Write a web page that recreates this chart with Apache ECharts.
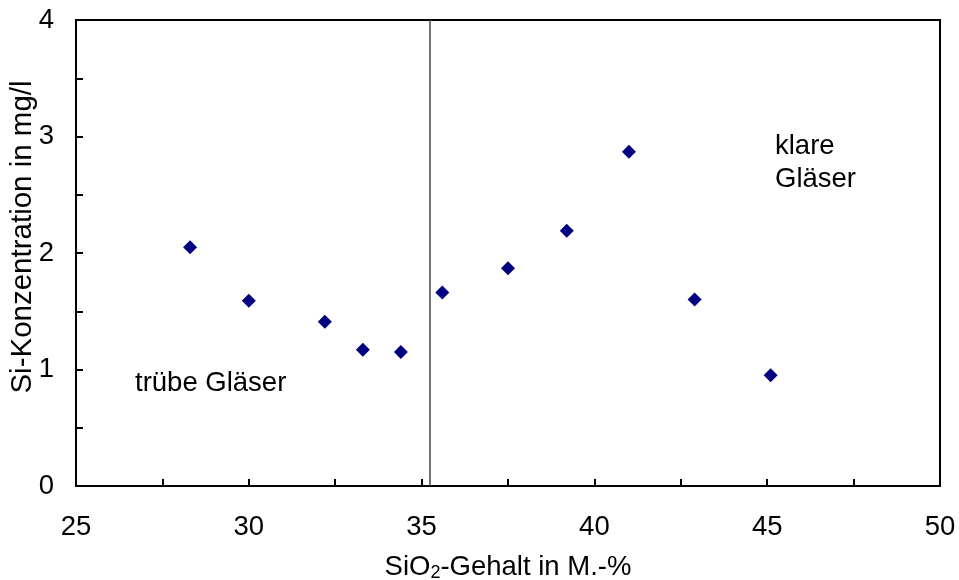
<!DOCTYPE html>
<html>
<head>
<meta charset="utf-8">
<script src="https://cdn.jsdelivr.net/npm/echarts@6/dist/echarts.min.js"></script>
<style>
  html, body { margin: 0; padding: 0; background: #fff; }
  #chart { width: 959px; height: 580px; }
</style>
</head>
<body>
<div id="chart"></div>
<script>
// SiO2 content (M.-%) and Si concentration (mg/l)
const sio2 = [28.3, 30.0, 32.2, 33.3, 34.4, 35.6, 37.5, 39.2, 41.0, 42.9, 45.1]
const siConc = [2.05, 1.59, 1.41, 1.17, 1.15, 1.66, 1.87, 2.19, 2.87, 1.60, 0.95]
const boundary = 35.25
const xTickLabels = ['25', '30', '35', '40', '45', '50']
const yTickLabels = ['0', '1', '2', '3', '4']

const font = 'Arial, "Liberation Sans", sans-serif'
const chart = echarts.init(document.getElementById('chart'))

chart.setOption({
  animation: false,
  grid: {
    left: 76,
    right: 19,
    top: 20,
    bottom: 94,
    outerBoundsMode: 'none',
    show: true,
    borderColor: '#000',
    borderWidth: 2
  },
  xAxis: {
    type: 'value',
    min: 25,
    max: 50,
    interval: 2.5,
    name: 'SiO{sub|2}-Gehalt in M.-%',
    nameLocation: 'middle',
    nameGap: 66,
    nameMoveOverlap: false,
    nameTextStyle: {
      color: '#000',
      fontSize: 27.5,
      fontFamily: font,
      rich: {
        sub: { fontSize: 18, fontFamily: font, color: '#000', padding: [12, 0, 0, 0] }
      }
    },
    axisLine: { lineStyle: { color: '#000', width: 2 } },
    axisTick: { inside: true, length: 7, lineStyle: { color: '#000', width: 2 } },
    splitLine: { show: false },
    axisLabel: {
      color: '#000',
      fontSize: 27.5,
      fontFamily: font,
      margin: 27,
      formatter: v => (xTickLabels.includes(String(v)) ? String(v) : '')
    }
  },
  yAxis: {
    type: 'value',
    min: 0,
    max: 4,
    interval: 0.5,
    name: 'Si-Konzentration in mg/l',
    nameLocation: 'middle',
    nameGap: 38,
    nameMoveOverlap: false,
    nameTextStyle: { color: '#000', fontSize: 29.5, fontFamily: font, padding: [0, 0, 0, 32] },
    axisLine: { lineStyle: { color: '#000', width: 2 } },
    axisTick: { inside: true, length: 7, lineStyle: { color: '#000', width: 2 } },
    splitLine: { show: false },
    axisLabel: {
      color: '#000',
      fontSize: 27.5,
      fontFamily: font,
      margin: 22,
      formatter: v => (yTickLabels.includes(String(v)) ? String(v) : '')
    }
  },
  graphic: [
    {
      type: 'text',
      left: 135,
      top: 369,
      style: { text: 'trübe Gläser', fontSize: 27.5, fontFamily: font, fill: '#000' }
    },
    {
      type: 'text',
      left: 775,
      top: 130,
      style: { text: 'klare\nGläser', fontSize: 27.5, lineHeight: 33, fontFamily: font, fill: '#000' }
    }
  ],
  series: [
    {
      type: 'scatter',
      symbol: 'diamond',
      symbolSize: 14,
      itemStyle: { color: '#000080', opacity: 1 },
      data: sio2.map((x, i) => [x, siConc[i]]),
      markLine: {
        silent: true,
        symbol: 'none',
        label: { show: false },
        lineStyle: { color: '#444', width: 1.5, type: 'solid' },
        data: [{ xAxis: boundary }]
      }
    }
  ]
})
</script>
</body>
</html>
